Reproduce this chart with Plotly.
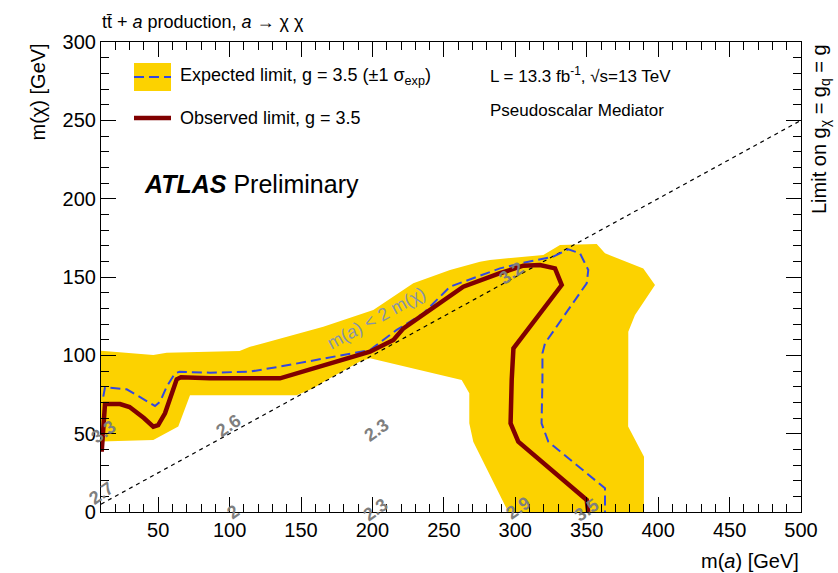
import plotly.graph_objects as go

# ---------------- data ----------------
band_x = [10, 46.6, 56, 107, 114.3, 123.6, 165.6, 200.6, 228.6, 254.3, 275.3, 282.3, 319.6, 331.3, 357,
          362.8, 389.6, 397.8, 383.8, 379.1, 379.1, 379, 390.1, 390, 295.1, 270.6, 267.8, 267.8,
          262.5, 198.3, 191.3, 168, 158.6, 147, 72.3, 64.1, 46.6, 10]
band_y = [103, 100.2, 101.7, 102.8, 105.5, 107.7, 118.3, 129, 146, 154.5, 159.8, 160.9, 164, 170.4, 171,
          165.1, 155.5, 144.9, 125.7, 115.1, 84.3, 54.5, 35.3, 0, 0, 44.9, 56.6, 75.8,
          84.3, 98.1, 96, 84.3, 79, 74.5, 74.5, 54.5, 46, 45]

exp_x = [11.6, 12.8, 28, 40, 47.8, 51.3, 56, 61.8, 65, 86.3, 114.3, 135.3, 198.3, 217, 235.6,
         254.3, 289.3, 305.6, 326.6, 337.1, 345.3, 351.1, 350, 320.8, 319, 319, 318.4, 323.1,
         362.8, 362.8]
exp_y = [73.6, 79.6, 78.3, 72, 67.7, 70.4, 80, 88.5, 89.5, 88.9, 89.6, 92.8, 103.4, 116.2, 126.8,
         143.8, 155.5, 159.1, 163, 167.7, 165.1, 154.5, 146, 107.7, 101.3, 84.3, 56.6, 44.9,
         15.1, 0]

obs_x = [10.5, 12.8, 23.3, 30, 40, 46.6, 50, 54.8, 63, 66, 86.3, 135.3, 198.3, 214.7, 221.7,
         240.3, 263.6, 289.3, 305.6, 317.3, 327.8, 332.5, 298.7, 297.5, 296.7, 302.1, 350, 351]
obs_y = [38.5, 68.9, 68.9, 67, 60, 54.5, 55.5, 63, 84.7, 86, 85.3, 85.3, 102.3, 109.8, 117.2,
         128.9, 143.8, 152.4, 157.2, 157.7, 155.5, 144.9, 104.5, 84.3, 56.6, 44.9, 7.7, 0]

diag_x = [10, 500]
diag_y = [5, 250]

contour_labels = ["3.3", "2.7", "2.6", "2.3", "2", "2.3", "2.9", "3.5", "3.2"]
contour_lab_x = [11.6, 10.5, 98.9, 203, 102.4, 201.8, 302.1, 350, 297.5]
contour_lab_y = [51.2, 11.9, 54.9, 52.3, 0.2, 1.3, 2.4, 1.3, 152.4]

x_ticks = [50, 100, 150, 200, 250, 300, 350, 400, 450, 500]
y_ticks = [0, 50, 100, 150, 200, 250, 300]

# ---------------- figure ----------------
W, H = 838, 573
ML, MR, MT, MB = 101, 37, 42, 61
PW, PH = W - ML - MR, H - MT - MB


def pxx(px):
    return (px - ML) / PW


def pxy(py):
    return (MT + PH - py) / PH


FONT = "Liberation Sans, Arial, Helvetica, sans-serif"
YELLOW = "#FCD200"
BLUE = "#3347E0"
RED = "#800000"

fig = go.Figure()
fig.add_trace(go.Scatter(x=band_x, y=band_y, fill="toself", fillcolor=YELLOW,
                         line=dict(width=0, color=YELLOW), mode="lines",
                         hoverinfo="skip", showlegend=False))
fig.add_trace(go.Scatter(x=diag_x, y=diag_y, mode="lines",
                         line=dict(color="black", width=1.2, dash="4px,4px"),
                         showlegend=False))
fig.add_trace(go.Scatter(x=exp_x, y=exp_y, mode="lines",
                         line=dict(color=BLUE, width=2, dash="10px,5px"),
                         showlegend=False))
fig.add_trace(go.Scatter(x=obs_x, y=obs_y, mode="lines",
                         line=dict(color=RED, width=4.5),
                         showlegend=False))

annotations = []
for t, x, y in zip(contour_labels, contour_lab_x, contour_lab_y):
    annotations.append(dict(x=x, y=y, xref="x", yref="y", text="<b>" + t + "</b>",
                            showarrow=False, textangle=-35,
                            font=dict(family=FONT, size=18, color="#7f7f7f")))

annotations.append(dict(x=203, y=123.6, xref="x", yref="y",
                        text="m(<i>a</i>) &lt; 2 m(χ)", showarrow=False, textangle=-29,
                        font=dict(family=FONT, size=18, color="#8893a8")))

# title
annotations.append(dict(x=pxx(100), y=pxy(22), xref="paper", yref="paper",
                        xanchor="left", yanchor="middle", showarrow=False,
                        text="tt\u0304 + <i>a</i> production, <i>a</i> → χ χ",
                        font=dict(family=FONT, size=18, color="black")))
# legend texts
annotations.append(dict(x=pxx(178), y=pxy(76), xref="paper", yref="paper",
                        xanchor="left", yanchor="middle", showarrow=False,
                        text="Expected limit, g = 3.5 (±1 σ<sub>exp</sub>)",
                        font=dict(family=FONT, size=18, color="black")))
annotations.append(dict(x=pxx(178), y=pxy(118), xref="paper", yref="paper",
                        xanchor="left", yanchor="middle", showarrow=False,
                        text="Observed limit, g = 3.5",
                        font=dict(family=FONT, size=18, color="black")))
annotations.append(dict(x=pxx(488), y=pxy(75), xref="paper", yref="paper",
                        xanchor="left", yanchor="middle", showarrow=False,
                        text="L = 13.3 fb<sup>-1</sup>, √s=13 TeV",
                        font=dict(family=FONT, size=17, color="black")))
annotations.append(dict(x=pxx(488), y=pxy(110), xref="paper", yref="paper",
                        xanchor="left", yanchor="middle", showarrow=False,
                        text="Pseudoscalar Mediator",
                        font=dict(family=FONT, size=17, color="black")))
annotations.append(dict(x=pxx(142), y=pxy(184), xref="paper", yref="paper",
                        xanchor="left", yanchor="middle", showarrow=False,
                        text="<b><i>ATLAS</i></b> Preliminary",
                        font=dict(family=FONT, size=25, color="black")))
# axis titles
annotations.append(dict(x=1.0, y=pxy(561), xref="paper", yref="paper",
                        xanchor="right", yanchor="middle", showarrow=False,
                        text="m(<i>a</i>) [GeV]",
                        font=dict(family=FONT, size=20, color="black")))
annotations.append(dict(x=pxx(37), y=1.0, xref="paper", yref="paper",
                        xanchor="center", yanchor="top", showarrow=False, textangle=-90,
                        text="m(χ) [GeV]",
                        font=dict(family=FONT, size=20, color="black")))
annotations.append(dict(x=pxx(820), y=pxy(42), xref="paper", yref="paper",
                        xanchor="center", yanchor="top", showarrow=False, textangle=-90,
                        text="Limit on g<sub>χ</sub> = g<sub>q</sub> = g",
                        font=dict(family=FONT, size=20, color="black")))

shapes = [
    dict(type="rect", xref="paper", yref="paper", x0=pxx(134), x1=pxx(171),
         y0=pxy(91), y1=pxy(63), fillcolor=YELLOW, line=dict(width=0)),
    dict(type="line", xref="paper", yref="paper", x0=pxx(134), x1=pxx(171),
         y0=pxy(77), y1=pxy(77), line=dict(color=BLUE, width=2, dash="10px,5px")),
    dict(type="line", xref="paper", yref="paper", x0=pxx(134), x1=pxx(171),
         y0=pxy(118), y1=pxy(118), line=dict(color=RED, width=4.5)),
]

axis_common = dict(showgrid=False, zeroline=False, showline=True, linecolor="black",
                   linewidth=1.2, mirror="ticks", ticks="inside", ticklen=15,
                   tickwidth=1.2, tickcolor="black",
                   tickfont=dict(family=FONT, size=20, color="black"))

fig.update_layout(
    width=W, height=H,
    margin=dict(l=ML, r=MR, t=MT, b=MB, pad=0),
    paper_bgcolor="white", plot_bgcolor="white",
    showlegend=False,
    annotations=annotations,
    shapes=shapes,
    xaxis=dict(range=[10, 500], tickvals=x_ticks,
               minor=dict(ticks="inside", ticklen=8, dtick=10, tick0=0,
                          tickcolor="black", tickwidth=1.2),
               **axis_common),
    yaxis=dict(range=[0, 300], tickvals=y_ticks,
               minor=dict(ticks="inside", ticklen=8, dtick=10, tick0=0,
                          tickcolor="black", tickwidth=1.2),
               **axis_common),
)

fig.write_html("out.html")
